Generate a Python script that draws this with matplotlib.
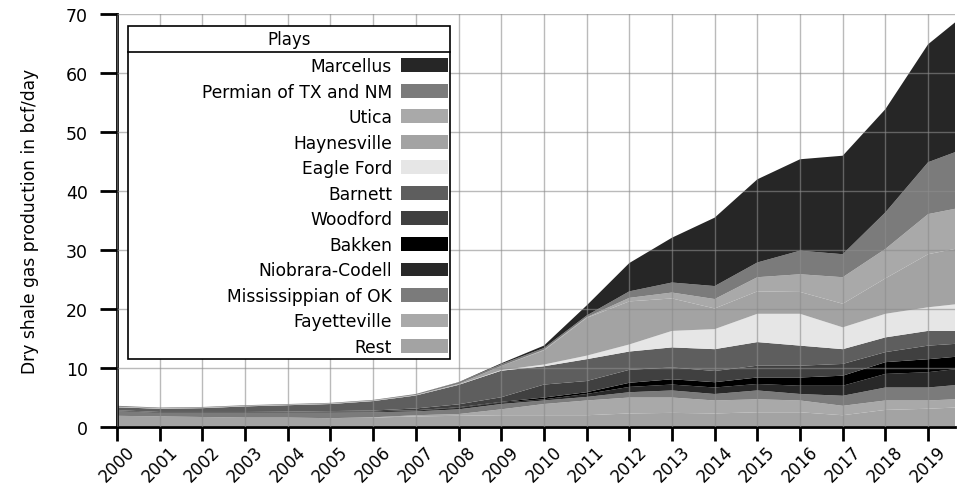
import numpy as np
import matplotlib.pyplot as plt
from matplotlib.patches import Rectangle

years = [2000, 2001, 2002, 2003, 2004, 2005, 2006, 2007, 2008, 2009,
         2010, 2011, 2012, 2013, 2014, 2015, 2016, 2017, 2018, 2019, 2019.63]

# production per play, bcf/day
rest          = [1.9, 1.8, 1.7, 1.6, 1.6, 1.5, 1.6, 1.8, 1.9, 2.0, 2.0, 2.0, 2.3, 2.4, 2.3, 2.5, 2.5, 2.0, 2.9, 3.1, 3.3]
fayetteville  = [0.0, 0.0, 0.0, 0.0, 0.0, 0.0, 0.05, 0.2, 0.3, 1.0, 1.9, 2.5, 2.7, 2.6, 2.2, 2.2, 2.0, 1.6, 1.6, 1.4, 1.4]
mississippian = [0.8, 0.6, 0.7, 0.8, 0.85, 0.95, 0.85, 0.65, 0.8, 0.9, 0.6, 0.6, 0.9, 1.2, 1.1, 1.5, 1.1, 1.7, 2.2, 2.2, 2.4]
niobrara      = [0.1, 0.1, 0.1, 0.1, 0.1, 0.15, 0.15, 0.15, 0.25, 0.25, 0.2, 0.5, 0.9, 1.0, 1.1, 1.1, 1.4, 1.7, 2.3, 2.6, 2.7]
bakken        = [0.0, 0.0, 0.0, 0.0, 0.0, 0.0, 0.0, 0.05, 0.1, 0.1, 0.3, 0.3, 0.7, 0.9, 0.9, 1.1, 1.4, 1.7, 2.0, 2.2, 2.1]
woodford      = [0.05, 0.05, 0.05, 0.05, 0.05, 0.1, 0.15, 0.3, 0.5, 0.8, 2.2, 1.9, 2.2, 2.0, 1.9, 2.0, 2.0, 2.0, 1.7, 2.3, 2.2]
barnett       = [0.5, 0.55, 0.65, 0.95, 1.1, 1.2, 1.6, 2.2, 3.3, 4.5, 3.1, 3.7, 3.1, 3.4, 3.7, 4.0, 3.4, 2.5, 2.5, 2.5, 2.2]
eagle_ford    = [0.05, 0.05, 0.05, 0.05, 0.05, 0.05, 0.05, 0.05, 0.05, 0.1, 0.3, 0.6, 1.2, 2.8, 3.4, 4.8, 5.4, 3.7, 4.0, 4.0, 4.5]
haynesville   = [0.05, 0.05, 0.05, 0.05, 0.05, 0.05, 0.05, 0.05, 0.1, 0.7, 2.4, 6.4, 7.3, 5.5, 3.5, 3.8, 3.7, 4.0, 6.0, 9.0, 9.4]
utica         = [0.0, 0.0, 0.0, 0.0, 0.0, 0.0, 0.0, 0.0, 0.0, 0.0, 0.1, 0.1, 0.6, 1.0, 1.6, 2.4, 3.0, 4.5, 5.0, 6.8, 6.8]
permian       = [0.15, 0.1, 0.1, 0.1, 0.1, 0.1, 0.1, 0.15, 0.25, 0.3, 0.3, 0.3, 1.1, 1.7, 2.2, 2.5, 4.0, 3.9, 6.2, 8.8, 9.6]
marcellus     = [0.0, 0.0, 0.0, 0.0, 0.0, 0.0, 0.0, 0.0, 0.05, 0.15, 0.4, 1.7, 4.8, 7.6, 11.6, 14.1, 15.5, 16.7, 17.5, 20.0, 22.0]

# bottom to top
labels = ["Rest", "Fayetteville", "Mississippian of OK", "Niobrara-Codell", "Bakken",
          "Woodford", "Barnett", "Eagle Ford", "Haynesville", "Utica",
          "Permian of TX and NM", "Marcellus"]
series = [rest, fayetteville, mississippian, niobrara, bakken, woodford,
          barnett, eagle_ford, haynesville, utica, permian, marcellus]
colors = ["#a3a3a3", "#a9a9a9", "#7b7b7b", "#282828", "#000000", "#404040",
          "#5e5e5e", "#e6e6e6", "#a3a3a3", "#a9a9a9", "#7b7b7b", "#262626"]

fig = plt.figure(figsize=(9.67, 4.89), dpi=100)
ax = fig.add_axes([0.121, 0.1247, 0.8666, 0.8443])

ax.stackplot(years, *series, labels=labels, colors=colors, linewidth=0)

ax.set_xlim(2000, 2019.63)
ax.set_ylim(0, 70)
ax.set_xticks(range(2000, 2020))
ax.set_xticklabels([str(y) for y in range(2000, 2020)], rotation=45,
                   ha="center", fontsize=12)
ax.set_yticks(range(0, 71, 10))
ax.tick_params(axis="y", labelsize=12.5, length=12, width=2, direction="out", pad=9)
ax.tick_params(axis="x", length=10, width=2, direction="out", pad=1)
for s in ["top", "right"]:
    ax.spines[s].set_visible(False)
for s in ["left", "bottom"]:
    ax.spines[s].set_linewidth(2)
ax.set_axisbelow(False)
ax.grid(True, color="#8c8c8c", linewidth=1, alpha=0.6)
ax.set_ylabel("Dry shale gas production in bcf/day", fontsize=12.3, labelpad=19)

# legend box with title row
bx0, bx1, by0, by1 = 0.0131, 0.3974, 0.1646, 0.971
ax.add_patch(Rectangle((bx0, by0), bx1 - bx0, by1 - by0, transform=ax.transAxes,
                       facecolor="white", edgecolor="black", linewidth=1.2, zorder=4))
ax.plot([bx0, bx1], [0.908, 0.908], color="black", linewidth=1.2,
        transform=ax.transAxes, zorder=4.5)
ax.text((bx0 + bx1) / 2, 0.9395, "Plays", transform=ax.transAxes, ha="center",
        va="center", fontsize=12, zorder=5)

h, l = ax.get_legend_handles_labels()
leg = ax.legend(h[::-1], l[::-1], loc="upper right",
                bbox_to_anchor=(0.3945, 0.896), borderaxespad=0, borderpad=0,
                markerfirst=False, frameon=False, fontsize=12.3,
                handlelength=2.7, handleheight=0.85, handletextpad=0.55,
                labelspacing=0.44)

fig.savefig("out.png", dpi=100)
